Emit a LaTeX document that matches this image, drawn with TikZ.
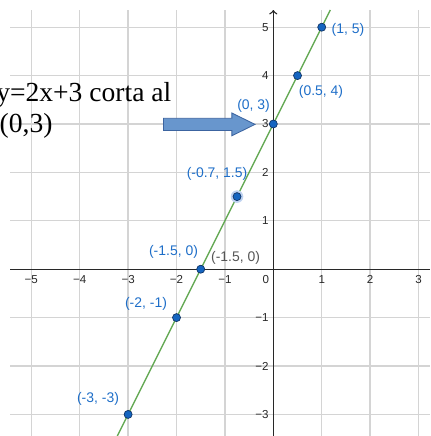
\documentclass[tikz,border=0pt]{standalone}
\usepackage{fontspec}
\setmainfont{Liberation Serif}
\newfontfamily\geofont{Liberation Sans}
\usepackage{xcolor}
\usetikzlibrary{positioning}

\definecolor{gridgray}{RGB}{212,212,212}
\definecolor{axisgray}{RGB}{40,40,40}
\definecolor{linegreen}{RGB}{98,168,82}
\definecolor{ptblue}{RGB}{21,101,192}
\definecolor{ptedge}{RGB}{15,50,100}
\definecolor{haloblue}{RGB}{190,210,240}
\definecolor{labblue}{RGB}{30,110,200}
\definecolor{labgray}{RGB}{85,85,85}
\definecolor{arrowfill}{RGB}{104,150,205}
\definecolor{arrowedge}{RGB}{60,100,160}

\begin{document}
\begin{tikzpicture}[
    gpoint/.style={circle,fill=ptblue,draw=ptedge,line width=0.4pt,inner sep=0pt,minimum size=0.166cm},
    glabel/.style={text=labblue,font=\geofont\fontsize{8.2}{9}\selectfont,inner sep=0pt},
    ticklab/.style={text=axisgray,font=\geofont\fontsize{6.8}{8}\selectfont,inner sep=0pt}
]
    \useasboundingbox (-5.647,-3.446) rectangle (3.238,5.562);
    \clip (-5.647,-3.446) rectangle (3.238,5.562);

    % grid
    \foreach \x in {-5,...,3}
        \draw[gridgray,line width=0.9pt] (\x,-3.446) -- (\x,5.355);
    \foreach \y in {-3,...,5}
        \draw[gridgray,line width=0.8pt] (-5.44,\y) -- (3.238,\y);

    % axes
    \draw[axisgray,line width=0.8pt] (-5.44,0) -- (3.238,0);
    \draw[axisgray,line width=0.8pt,->] (0,-3.446) -- (0,5.355);

    \foreach \x in {1,...,5}
        \node[ticklab] at (-\x,-0.21) {−\x};
    \foreach \x in {1,2,3}
        \node[ticklab] at (\x,-0.21) {\x};
    \node[ticklab] at (-0.157,-0.21) {0};
    \foreach \y in {1,...,5}
        \node[ticklab,anchor=east] at (-0.09,\y) {\y};
    \foreach \y in {1,2,3}
        \node[ticklab,anchor=east] at (-0.09,-\y) {−\y};

    % the line y=2x+3
    \coordinate (lnlo) at (-3.223,-3.446);
    \coordinate (lnhi) at (1.1775,5.355);
    \draw[linegreen,line width=0.8pt] (lnlo) -- (lnhi);

    \fill[haloblue] (-0.75,1.5) circle (0.13);

    \node[gpoint] (pA) at (1,5) {};
    \node[gpoint] (pB) at (0.5,4) {};
    \node[gpoint] (pC) at (0,3) {};
    \node[gpoint] (pD) at (-0.75,1.5) {};
    \node[gpoint] (pE) at (-1.5,0) {};
    \node[gpoint] (pF) at (-2,-1) {};
    \node[gpoint] (pG) at (-3,-3) {};

    \node[glabel] (lA) at (1.543,4.942) {(1, 5)};
    \node[glabel] (lB) at (0.986,3.661) {(0.5, 4)};
    \node[glabel] (lC) at (-0.409,3.372) {(0, 3)};
    \node[glabel] (lD) at (-1.163,1.967) {(-0.7, 1.5)};
    \node[glabel] (lE) at (-2.062,0.350) {(-1.5, 0)};
    \node[glabel,text=labgray] (lEb) at (-0.781,0.242) {(-1.5, 0)};
    \node[glabel] (lF) at (-2.630,-0.719) {(-2, -1)};
    \node[glabel] (lG) at (-3.622,-2.681) {(-3, -3)};

    % note with block arrow
    \node[anchor=base west,inner sep=0pt,font=\fontsize{16.2}{18}\selectfont] (note1) at (-5.73,3.461) {y=2x+3 corta al};
    \node[anchor=base west,inner sep=0pt,font=\fontsize{16.2}{18}\selectfont] (note2) at (-5.66,2.824) {(0,3)};
    \draw[arrowedge,fill=arrowfill,line width=0.5pt]
        (-2.27,3.118) -- (-0.857,3.118) -- (-0.857,3.227) -- (-0.378,2.992)
        -- (-0.857,2.757) -- (-0.857,2.866) -- (-2.27,2.866) -- cycle;
\end{tikzpicture}
\end{document}
